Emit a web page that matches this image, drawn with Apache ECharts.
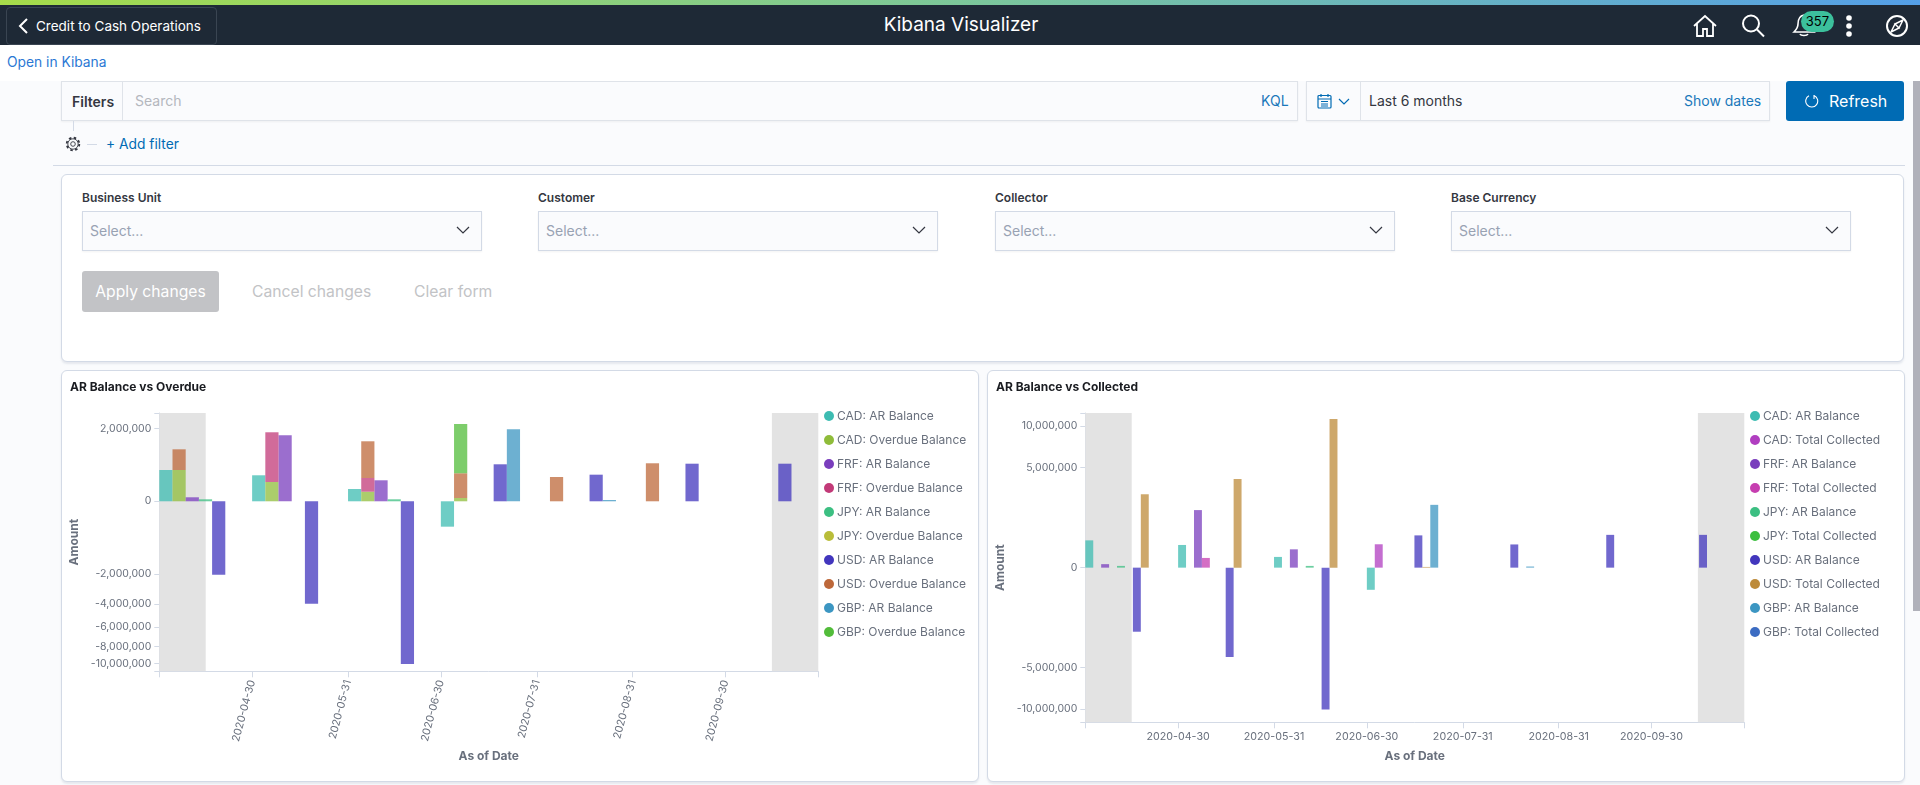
<!DOCTYPE html>
<html>
<head>
<meta charset="utf-8">
<title>Kibana Visualizer</title>
<script src="https://cdn.jsdelivr.net/npm/echarts@6/dist/echarts.min.js"></script>
<style>
html,body{margin:0;padding:0;width:1920px;height:785px;overflow:hidden;background:#fafbfd;font-family:Inter,"Noto Sans",sans-serif;color:#343741}
.abs{position:absolute;white-space:nowrap}
#strip{left:0;top:0;width:1920px;height:5px;background:linear-gradient(90deg,#a6dc4a 0%,#7cc79a 50%,#549fe8 100%)}
#head{left:0;top:5px;width:1920px;height:40px;background:#1e2936}
#back{left:6px;top:7px;width:209px;height:36px;border:1px solid #3a4552;border-radius:4px;background:#1e2936;color:#fff;font-size:13.5px;line-height:36px;text-indent:29px}
#title{left:761px;width:400px;top:12px;text-align:center;color:#fff;font-size:19px;line-height:26px}
#white{left:0;top:45px;width:1920px;height:36px;background:#fff}
#open{left:7px;top:53px;font-size:13.8px;line-height:18px;color:#2b78d4}
.bar{background:#fafbfd;border:1px solid #dfe3e9;box-sizing:border-box;height:40px;top:81px;box-shadow:0 1px 2px rgba(0,0,0,.05)}
.txt{font-size:14px;line-height:18px}
.blue{color:#1a78ba}
#refresh{left:1786px;top:81px;width:118px;height:40px;background:#006bb4;border-radius:3px;color:#fff;font-size:16px;line-height:40px;text-indent:43px}
.panel{background:#fff;border:1px solid #d3dae6;border-radius:6px;box-sizing:border-box;box-shadow:0 2px 2px rgba(152,162,179,.2)}
.lab{font-size:12px;font-weight:600;line-height:16px;top:190px;color:#343741}
.sel{top:211px;height:40px;background:#fafbfd;border:1px solid #d3dae6;box-sizing:border-box;font-size:14px;line-height:38px;color:#98a2b3;text-indent:7px;box-shadow:0 1px 2px rgba(0,0,0,.05)}
.sel svg{position:absolute;right:11px;top:13px}
#apply{left:82px;top:271px;width:137px;height:41px;background:#c2c3c6;border-radius:3px;color:#fff;font-size:15.7px;line-height:41px;text-align:center}
.off{top:283px;font-size:15.7px;line-height:18px;color:#c2c3c6}
#scroll{left:1913px;top:81px;width:7px;height:530px;background:#b0b1ba}
.chart{position:absolute;top:370px;width:916px;height:411px}
</style>
</head>
<body>
<div class="abs" id="strip"></div>
<div class="abs" id="head"></div>
<div class="abs" id="back">Credit to Cash Operations</div>
<svg class="abs" style="left:17px;top:17px" width="12" height="18" viewBox="0 0 12 18"><path d="M10 2 3 9l7 7" fill="none" stroke="#fff" stroke-width="2"/></svg>
<div class="abs" id="title">Kibana Visualizer</div>
<svg class="abs" style="left:1692px;top:13px" width="26" height="26" viewBox="0 0 26 26"><path d="M2 13 13 3l11 10M5 11v12h6v-7h4v7h6V11" fill="none" stroke="#fff" stroke-width="1.8"/></svg>
<svg class="abs" style="left:1740px;top:13px" width="26" height="26" viewBox="0 0 26 26"><circle cx="11" cy="10.5" r="8" fill="none" stroke="#fff" stroke-width="2"/><path d="M17 16.500 24 23.500" stroke="#fff" stroke-width="2"/></svg>
<svg class="abs" style="left:1791px;top:13px" width="26" height="24" viewBox="0 0 26 24"><path d="M13 2c-5 1-6 5-6 9 0 4-2 6-4 8h20c-2-2-3-4-4-8M9 21c1 2 7 2 8 0" fill="none" stroke="#fff" stroke-width="1.6"/></svg>
<div class="abs" style="left:1801px;top:11px;width:33px;height:21px;border-radius:11px;background:#3cc09c;color:#000;font-size:13px;line-height:21px;text-align:center">357</div>
<svg class="abs" style="left:1843px;top:14px" width="12" height="24" viewBox="0 0 12 24"><circle cx="6" cy="4" r="2.800" fill="#fff"/><circle cx="6" cy="12" r="2.800" fill="#fff"/><circle cx="6" cy="20" r="2.800" fill="#fff"/></svg>
<svg class="abs" style="left:1885px;top:14px" width="24" height="24" viewBox="0 0 24 24"><circle cx="12" cy="12" r="10" fill="none" stroke="#fff" stroke-width="2"/><path d="M18 6 14 14 10 10ZM6 18l4-8 4 4Z" fill="none" stroke="#fff" stroke-width="1.500"/></svg>
<div class="abs" id="white"></div>
<div class="abs" id="open">Open in Kibana</div>

<div class="abs bar" style="left:61px;width:1237px"></div>
<div class="abs" style="left:122px;top:82px;width:1px;height:38px;background:#dfe3e9"></div>
<div class="abs txt" style="left:72px;top:93px;font-weight:600">Filters</div>
<div class="abs txt" style="left:135px;top:92px;color:#b4b7bd">Search</div>
<div class="abs txt blue" style="left:1261px;top:92px">KQL</div>
<div class="abs bar" style="left:1306px;width:464px"></div>
<div class="abs" style="left:1360px;top:82px;width:1px;height:38px;background:#dfe3e9"></div>
<svg class="abs" style="left:1317px;top:93px" width="15" height="16" viewBox="0 0 15 16"><rect x="1" y="2.500" width="13" height="12.500" rx="1" fill="none" stroke="#006bb4" stroke-width="1.200"/><path d="M1 6h13M4 1v3M11 1v3M4 8.500h7M4 11h7M4 13h7" stroke="#006bb4" stroke-width="1.200"/></svg>
<svg class="abs" style="left:1338px;top:98px" width="12" height="7" viewBox="0 0 12 7"><path d="M1 1l5 5 5-5" fill="none" stroke="#006bb4" stroke-width="1.200"/></svg>
<div class="abs txt" style="left:1369px;top:92px">Last 6 months</div>
<div class="abs txt blue" style="left:1684px;top:92px">Show dates</div>
<div class="abs" id="refresh">Refresh</div>
<svg class="abs" style="left:1805px;top:94px" width="14" height="14" viewBox="0 0 14 14"><path d="M9 1.500a6 6 0 1 1-5 .200M9 1v4" fill="none" stroke="#fff" stroke-width="1.100"/></svg>

<div class="abs" style="left:73px;top:121px;width:1px;height:10px;background:#d3dae6"></div>
<svg class="abs" style="left:65px;top:136px" width="16" height="16" viewBox="0 0 16 16"><circle cx="8" cy="8" r="2.300" fill="none" stroke="#343741" stroke-width=".9"/><circle cx="8" cy="8" r="5.200" fill="none" stroke="#343741" stroke-width=".9"/><circle cx="8" cy="8" r="6.300" fill="none" stroke="#343741" stroke-width="1.800" stroke-dasharray="2.500 2.450"/></svg>
<div class="abs" style="left:87px;top:144px;width:10px;height:1px;background:#d3dae6"></div>
<div class="abs txt" style="left:106px;top:135px;color:#006bb4;font-size:13.8px">+ Add filter</div>
<div class="abs" style="left:53px;top:165px;width:1852px;height:1px;background:#d3dae6"></div>

<div class="abs panel" style="left:61px;top:174px;width:1843px;height:188px"></div>
<div class="abs lab" style="left:82px">Business Unit</div>
<div class="abs sel" style="left:82px;width:400px">Select...<svg width="14" height="10" viewBox="0 0 14 10"><path d="M1 2l6 6 6-6" fill="none" stroke="#343741" stroke-width="1.200"/></svg></div>
<div class="abs lab" style="left:538px">Customer</div>
<div class="abs sel" style="left:538px;width:400px">Select...<svg width="14" height="10" viewBox="0 0 14 10"><path d="M1 2l6 6 6-6" fill="none" stroke="#343741" stroke-width="1.200"/></svg></div>
<div class="abs lab" style="left:995px">Collector</div>
<div class="abs sel" style="left:995px;width:400px">Select...<svg width="14" height="10" viewBox="0 0 14 10"><path d="M1 2l6 6 6-6" fill="none" stroke="#343741" stroke-width="1.200"/></svg></div>
<div class="abs lab" style="left:1451px">Base Currency</div>
<div class="abs sel" style="left:1451px;width:400px">Select...<svg width="14" height="10" viewBox="0 0 14 10"><path d="M1 2l6 6 6-6" fill="none" stroke="#343741" stroke-width="1.200"/></svg></div>
<div class="abs" id="apply">Apply changes</div>
<div class="abs off" style="left:252px">Cancel changes</div>
<div class="abs off" style="left:414px">Clear form</div>

<div class="abs panel" style="left:61px;top:370px;width:918px;height:412px"></div>
<div class="abs panel" style="left:987px;top:370px;width:918px;height:412px"></div>
<div class="chart" id="overdue" style="left:62px"></div>
<div class="chart" id="collected" style="left:988px"></div>
<div class="abs" id="scroll"></div>

<script>
// monthly buckets of the As of Date axis
var asOfDates = ['2020-03-31', '2020-04-30', '2020-05-31', '2020-06-30', '2020-07-31', '2020-08-31', '2020-09-30'];
var tickDates = ['2020-04-30', '2020-05-31', '2020-06-30', '2020-07-31', '2020-08-31', '2020-09-30'];
var axisStart = '2020-03-31', partialStart = '2020-04-15', partialEnd = '2020-10-15', axisEnd = '2020-10-30';

// values
var cadAr = [372000, 257000, 57500, -245000, null, null, null];
var frfAr = [6100, 1655000, 167600, null, null, null, null];
var jpyAr = [1500, null, 1500, null, null, null, null];
var usdAr = [-2050000, -3980000, -10060000, 520000, 269000, 537000, 537000];
var gbpAr = [null, null, null, 1970000, 640, null, null];

var cadOverdue = [372000, 141500, 35000, 4100, null, null, null];
var frfOverdue = [null, 1668000, 171000, null, null, null, null];
var jpyOverdue = [null, null, null, null, null, null, null];
var usdOverdue = [655000, null, 1162000, 294000, 224400, 549000, null];
var gbpOverdue = [null, null, null, 1973000, null, null, null];

var cadCollected = [null, null, null, 273000, null, null, null];
var frfCollected = [null, 47000, null, null, null, null, null];
var jpyCollected = [null, null, null, null, null, null, null];
var usdCollected = [2690000, 3930000, 11040000, 250, null, null, null];
var gbpCollected = [null, null, null, null, null, null, null];

var overdueTicks = [2000000, 0, -2000000, -4000000, -6000000, -8000000, -10000000];
var collectedTicks = [10000000, 5000000, 0, -5000000, -10000000];

var GREY = '#69707d', LINE = '#d3dae6', FONT = 'Inter';

function ms(d) {
	return +new Date(d + 'T00:00:00');
}
// the amount axis is a square root scale, the value axis runs in root units
function root(v) {
	return v < 0 ? -Math.sqrt(-v) : Math.sqrt(v);
}
// amount first: echarts stacks the first numeric column
function pairs(dates, vals) {
	return dates.map(function (d, i) {
		return [vals[i] == null ? null : root(vals[i]), ms(d)];
	});
}
// stacked segments: the height is the difference of the cumulated roots
function stackedPairs(dates, vals, below) {
	return dates.map(function (d, i) {
		if (vals[i] == null) return [null, ms(d)];
		var under = 0;
		below.forEach(function (b) { under += b[i] || 0; });
		return [root(under + vals[i]) - root(under), ms(d)];
	});
}
function buildOption(cfg) {
	var series = [];
	// empty slots so that the group of bars starts on its date, not centred on it
	for (var i = 0; i < cfg.slots; i++) {
		series.push({type: 'bar', data: [], barWidth: cfg.barWidth, barGap: '0%', silent: true});
	}
	series[0].markArea = {
		silent: true,
		itemStyle: {color: '#e3e3e3', opacity: 1},
		data: [
			[{xAxis: ms(axisStart)}, {xAxis: ms(partialStart)}],
			[{xAxis: ms(partialEnd)}, {xAxis: ms(axisEnd)}]
		]
	};
	cfg.series.forEach(function (s) {
		series.push({
			name: s.name,
			type: 'bar',
			stack: s.stack,
			encode: {x: 1, y: 0},
			barWidth: cfg.barWidth,
			barGap: '0%',
			data: s.data,
			itemStyle: {color: s.color, opacity: 0.75}
		});
	});
	return {
		animation: false,
		textStyle: {fontFamily: FONT},
		title: {
			text: cfg.title, left: 3, top: 6,
			textStyle: {fontFamily: FONT, fontSize: 12, fontWeight: 700, color: '#1a1c21'}
		},
		legend: {
			orient: 'vertical', left: 757, top: 35,
			data: cfg.series.map(function (s) { return s.name; }),
			icon: 'circle', itemWidth: 10, itemHeight: 10, itemGap: 12,
			itemStyle: {opacity: 1},
			textStyle: {fontFamily: FONT, fontSize: 12, color: GREY, padding: [0, 0, 0, -2]}
		},
		grid: {left: 97.3, top: 43, width: 659, height: cfg.height, outerBoundsMode: 'none'},
		xAxis: {
			type: 'value',
			min: ms(axisStart), max: ms(axisEnd),
			name: 'As of Date', nameLocation: 'middle', nameGap: cfg.xNameGap,
			nameTextStyle: {fontFamily: FONT, fontSize: 12, fontWeight: 700, color: GREY},
			axisLine: {onZero: false, lineStyle: {color: LINE}},
			axisTick: {
				length: 6, lineStyle: {color: LINE},
				customValues: [axisStart].concat(tickDates, [axisEnd]).map(ms)
			},
			splitLine: {show: false},
			axisLabel: {
				customValues: tickDates.map(ms),
				rotate: cfg.rotate, margin: 9, hideOverlap: false,
				fontFamily: FONT, fontSize: 10.7, color: GREY,
				formatter: function (v) { return echarts.time.format(v, '{yyyy}-{MM}-{dd}', false); }
			}
		},
		yAxis: {
			type: 'value',
			min: cfg.yMin, max: cfg.yMax,
			name: 'Amount', nameLocation: 'middle', nameGap: 67.5,
			nameTextStyle: {fontFamily: FONT, fontSize: 12, fontWeight: 700, color: GREY},
			axisLine: {show: true, lineStyle: {color: LINE}},
			axisTick: {
				show: true, length: 5, lineStyle: {color: LINE},
				customValues: [cfg.yMin].concat(cfg.ticks.map(root), [cfg.yMax])
			},
			splitLine: {show: false},
			axisLabel: {
				customValues: cfg.ticks.map(root),
				margin: 8, fontFamily: FONT, fontSize: 10.5, color: GREY,
				formatter: function (v) {
					var amount = Math.round(v * Math.abs(v) / 1000) * 1000;
					return amount.toLocaleString('en-US');
				}
			}
		},
		series: series
	};
}

var overdueChart = echarts.init(document.getElementById('overdue'));
overdueChart.setOption(buildOption({
	title: 'AR Balance vs Overdue',
	slots: 6, barWidth: 13.2, height: 258.3, xNameGap: 79, rotate: 75,
	yMin: -3314, yMax: 1721, ticks: overdueTicks,
	series: [
		{name: 'CAD: AR Balance', color: '#3dbcb2', data: pairs(asOfDates, cadAr)},
		{name: 'CAD: Overdue Balance', color: '#8fbc3a', stack: 'overdue', data: stackedPairs(asOfDates, cadOverdue, [])},
		{name: 'FRF: AR Balance', color: '#7a3ebd', data: pairs(asOfDates, frfAr)},
		{name: 'FRF: Overdue Balance', color: '#c23a78', stack: 'overdue', data: stackedPairs(asOfDates, frfOverdue, [cadOverdue])},
		{name: 'JPY: AR Balance', color: '#3cbf82', data: pairs(asOfDates, jpyAr)},
		{name: 'JPY: Overdue Balance', color: '#b9bd3a', stack: 'overdue', data: stackedPairs(asOfDates, jpyOverdue, [cadOverdue, frfOverdue])},
		{name: 'USD: AR Balance', color: '#4236bd', data: pairs(asOfDates, usdAr)},
		{name: 'USD: Overdue Balance', color: '#bd683a', stack: 'overdue', data: stackedPairs(asOfDates, usdOverdue, [cadOverdue, frfOverdue, jpyOverdue])},
		{name: 'GBP: AR Balance', color: '#3c96c2', data: pairs(asOfDates, gbpAr)},
		{name: 'GBP: Overdue Balance', color: '#52bc3a', stack: 'overdue', data: stackedPairs(asOfDates, gbpOverdue, [cadOverdue, frfOverdue, jpyOverdue, usdOverdue])}
	]
}));

var collectedChart = echarts.init(document.getElementById('collected'));
collectedChart.setOption(buildOption({
	title: 'AR Balance vs Collected',
	slots: 10, barWidth: 7.93, height: 309.3, xNameGap: 28, rotate: 0,
	yMin: -3456, yMax: 3456, ticks: collectedTicks,
	series: [
		{name: 'CAD: AR Balance', color: '#3dbcb2', data: pairs(asOfDates, cadAr)},
		{name: 'CAD: Total Collected', color: '#b03ec0', data: pairs(asOfDates, cadCollected)},
		{name: 'FRF: AR Balance', color: '#7a3ebd', data: pairs(asOfDates, frfAr)},
		{name: 'FRF: Total Collected', color: '#c63eb0', data: pairs(asOfDates, frfCollected)},
		{name: 'JPY: AR Balance', color: '#3cbf82', data: pairs(asOfDates, jpyAr)},
		{name: 'JPY: Total Collected', color: '#3cbf3f', data: pairs(asOfDates, jpyCollected)},
		{name: 'USD: AR Balance', color: '#4236bd', data: pairs(asOfDates, usdAr)},
		{name: 'USD: Total Collected', color: '#bd8b3a', data: pairs(asOfDates, usdCollected)},
		{name: 'GBP: AR Balance', color: '#3c96c2', data: pairs(asOfDates, gbpAr)},
		{name: 'GBP: Total Collected', color: '#3c6cc2', data: pairs(asOfDates, gbpCollected)}
	]
}));
</script>
</body>
</html>
